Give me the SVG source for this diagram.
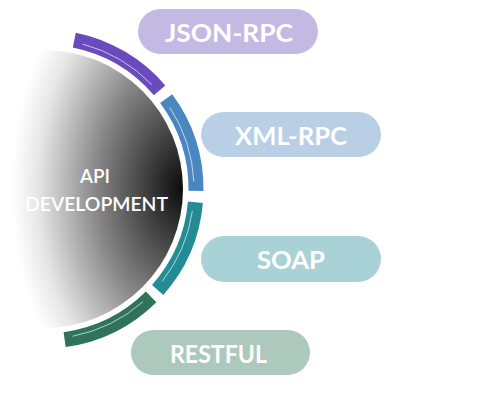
<svg xmlns="http://www.w3.org/2000/svg" width="478" height="403" viewBox="0 0 478 403">
  <defs>
    <radialGradient id="disk" gradientUnits="userSpaceOnUse" cx="0" cy="0" r="1" gradientTransform="translate(182,188) scale(170,250)">
      <stop offset="0" stop-color="#0c0c0c"/>
      <stop offset="0.5" stop-color="#858585"/>
      <stop offset="0.85" stop-color="#e6e6e6"/>
      <stop offset="1" stop-color="#ffffff"/>
    </radialGradient>
    <style>
      .seg { fill: none; stroke-width: 15; stroke-linecap: butt; }
      .line { fill: none; stroke: #ffffff; stroke-opacity: 0.65; stroke-width: 1; }
      .pill-text { font-family: Lato, "Liberation Sans", sans-serif; font-weight: 700; font-size: 25px; fill: #ffffff; text-anchor: middle; }
      .center-text { font-family: Lato, "Liberation Sans", sans-serif; font-weight: 600; font-size: 19px; fill: #ffffff; text-anchor: middle; }
    </style>
  </defs>
  <rect width="478" height="403" fill="#ffffff"/>

  <g id="center">
    <circle cx="44" cy="189" r="139" fill="url(#disk)"/>
    <text class="center-text" x="95" y="183" textLength="30" lengthAdjust="spacingAndGlyphs">API</text>
    <text class="center-text" x="96.5" y="211" textLength="143" lengthAdjust="spacingAndGlyphs">DEVELOPMENT</text>
  </g>

  <g id="connectors">
    <path class="seg" stroke="#6a4bbd" d="M74.31,40.06 A152,152 0 0 1 159.58,90.29"/>
    <path class="line" d="M82.82,44.11 A150,150 0 0 1 151.90,84.79"/>
    <path class="seg" stroke="#4a86c0" d="M166.19,98.59 A152,152 0 0 1 195.99,190.86"/>
    <path class="line" d="M169.81,107.31 A150,150 0 0 1 193.82,181.67"/>
    <path class="seg" stroke="#238b94" d="M195.42,202.25 A152,152 0 0 1 157.67,289.91"/>
    <path class="line" d="M192.35,211.17 A150,150 0 0 1 162.20,281.36"/>
    <path class="seg" stroke="#2e735a" d="M151.10,296.86 A152,152 0 0 1 64.63,339.59"/>
    <path class="line" d="M143.00,301.70 A150,150 0 0 1 72.62,336.24"/>
  </g>

  <g id="json-rpc">
    <rect x="138" y="9" width="180" height="45" rx="22.5" fill="#c4b9e3"/>
    <text class="pill-text" x="229" y="42" textLength="128" lengthAdjust="spacingAndGlyphs">JSON-RPC</text>
  </g>
  <g id="xml-rpc">
    <rect x="201" y="112" width="180" height="45" rx="22.5" fill="#b8cfe6"/>
    <text class="pill-text" x="291" y="145" textLength="112" lengthAdjust="spacingAndGlyphs">XML-RPC</text>
  </g>
  <g id="soap">
    <rect x="201" y="236" width="180" height="46" rx="23" fill="#a9d2d6"/>
    <text class="pill-text" x="291" y="269" textLength="68" lengthAdjust="spacingAndGlyphs">SOAP</text>
  </g>
  <g id="restful">
    <rect x="131" y="330" width="179" height="45" rx="22.5" fill="#adc8bc"/>
    <text class="pill-text" x="218.5" y="363" textLength="97" lengthAdjust="spacingAndGlyphs">RESTFUL</text>
  </g>
</svg>
